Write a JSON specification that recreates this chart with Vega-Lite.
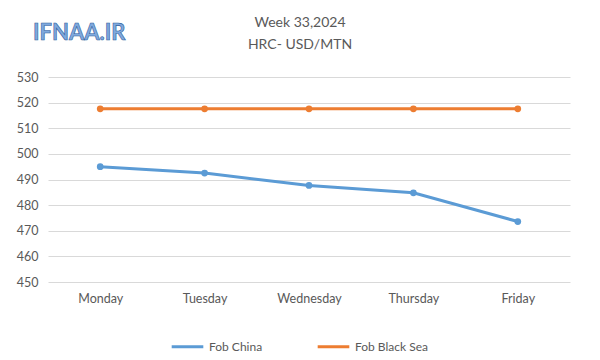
{
  "$schema": "https://vega.github.io/schema/vega-lite/v6.json",
  "width": 522,
  "height": 205,
  "autosize": {"type": "none"},
  "padding": {"left": 48, "top": 77, "right": 30, "bottom": 78},
  "background": "white",
  "config": {
    "font": "Lato",
    "view": {"stroke": null},
    "axis": {"labelColor": "#595959", "labelFont": "Lato", "labelFontSize": 12.5, "titleColor": "#595959"}
  },
  "title": {
    "text": ["Week 33,2024", "HRC- USD/MTN"],
    "fontSize": 14,
    "fontWeight": "normal",
    "color": "#595959",
    "font": "Lato",
    "lineHeight": 22,
    "anchor": "middle",
    "dx": -9,
    "offset": -30
  },
  "layer": [
    {
      "data": {
        "values": [
          {"day": "Monday", "series": "Fob China", "price": 495},
          {"day": "Tuesday", "series": "Fob China", "price": 492.5},
          {"day": "Wednesday", "series": "Fob China", "price": 487.7},
          {"day": "Thursday", "series": "Fob China", "price": 484.8},
          {"day": "Friday", "series": "Fob China", "price": 473.6},
          {"day": "Monday", "series": "Fob Black Sea", "price": 517.6},
          {"day": "Tuesday", "series": "Fob Black Sea", "price": 517.6},
          {"day": "Wednesday", "series": "Fob Black Sea", "price": 517.6},
          {"day": "Thursday", "series": "Fob Black Sea", "price": 517.6},
          {"day": "Friday", "series": "Fob Black Sea", "price": 517.6}
        ]
      },
      "mark": {"type": "line", "strokeWidth": 3, "point": {"size": 45, "filled": true}},
      "encoding": {
        "x": {
          "field": "day", "type": "ordinal",
          "sort": ["Monday", "Tuesday", "Wednesday", "Thursday", "Friday"],
          "scale": {"type": "point", "padding": 0.5},
          "axis": {"title": null, "labelAngle": 0, "ticks": false, "domain": false, "grid": false, "labelPadding": 10}
        },
        "y": {
          "field": "price", "type": "quantitative",
          "scale": {"domain": [450, 530], "nice": false, "zero": false},
          "axis": {"title": null, "values": [450, 460, 470, 480, 490, 500, 510, 520, 530], "labelOverlap": false, "labelFlush": false, "ticks": false, "domain": false, "gridColor": "#D9D9D9", "gridWidth": 1, "labelPadding": 10}
        },
        "color": {
          "field": "series", "type": "nominal",
          "sort": ["Fob China", "Fob Black Sea"],
          "scale": {"domain": ["Fob China", "Fob Black Sea"], "range": ["#5B9BD5", "#ED7D31"]},
          "legend": {
            "title": null, "orient": "none", "direction": "horizontal",
            "legendX": 122, "legendY": 252,
            "labelColor": "#595959", "labelFontSize": 12, "labelFont": "Lato",
            "symbolType": "stroke", "symbolStrokeWidth": 3, "symbolSize": 1000,
            "columnPadding": 48
          }
        }
      }
    },
    {
      "data": {"values": [{"logo": "IFNAA.IR"}]},
      "mark": {"type": "text", "font": "Lato", "fontSize": 22, "fontWeight": "bold", "fill": "#7FA9DD", "stroke": "#2F5F9E", "strokeWidth": 0.6, "clip": false, "align": "center", "baseline": "middle", "dx": -21},
      "encoding": {
        "x": {"datum": "Monday", "type": "ordinal", "axis": {"title": null, "labelAngle": 0, "ticks": false, "domain": false, "grid": false, "labelPadding": 10}},
        "y": {"datum": 547, "type": "quantitative", "axis": {"title": null, "values": [450, 460, 470, 480, 490, 500, 510, 520, 530], "labelOverlap": false, "labelFlush": false, "ticks": false, "domain": false, "gridColor": "#D9D9D9", "gridWidth": 1, "labelPadding": 10}},
        "text": {"field": "logo"}
      }
    }
  ]
}
